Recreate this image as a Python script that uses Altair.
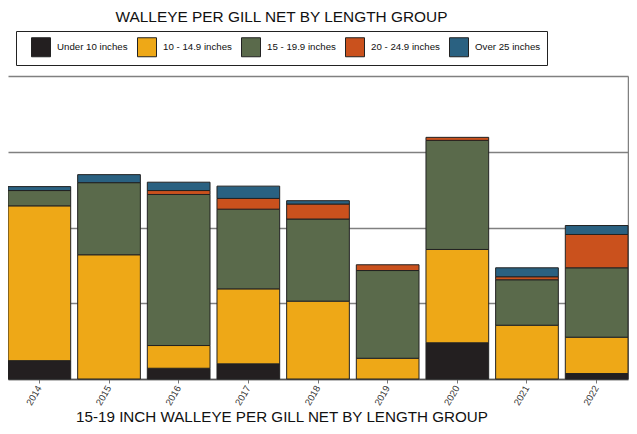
import altair as alt
import pandas as pd

years = ["2014", "2015", "2016", "2017", "2018", "2019", "2020", "2021", "2022"]
groups = ["Under 10 inches", "10 - 14.9 inches", "15 - 19.9 inches", "20 - 24.9 inches", "Over 25 inches"]
colors = ["#231F20", "#EEA817", "#5A6A4B", "#CA511D", "#2A6181"]

under10 = [1.21, 0.00, 0.71, 1.00, 0.00, 0.00, 2.39, 0.00, 0.36]
g10_15 = [10.22, 8.20, 1.50, 4.95, 5.14, 1.37, 6.16, 3.55, 2.40]
g15_20 = [1.01, 4.76, 9.97, 5.26, 5.42, 5.79, 7.20, 3.00, 4.58]
g20_25 = [0.00, 0.00, 0.26, 0.71, 0.99, 0.38, 0.20, 0.20, 2.20]
over25 = [0.26, 0.53, 0.55, 0.81, 0.22, 0.00, 0.00, 0.59, 0.59]
y_ticks = [0, 5, 10, 15, 20]

title_top = "WALLEYE PER GILL NET BY LENGTH GROUP"
title_bottom = "15-19 INCH WALLEYE PER GILL NET BY LENGTH GROUP"

series = [under10, g10_15, g15_20, g20_25, over25]
rows = []
for gi, (g, vals) in enumerate(zip(groups, series)):
    for y, v in zip(years, vals):
        if v > 0:
            rows.append({"year": y, "group": g, "idx": gi, "value": v})
df = pd.DataFrame(rows)

FONT = "Liberation Sans"
yscale = alt.Scale(domain=[0, 20], nice=False, zero=True)
xscale = alt.Scale(paddingInner=0.1, paddingOuter=0)

bars = alt.Chart(df).mark_bar(stroke="#222222", strokeWidth=1).encode(
    x=alt.X("year:N", sort=years, scale=xscale,
            axis=alt.Axis(title=None, labelAngle=-60, labelFontSize=9.5, labelFont=FONT,
                          labelColor="#333333", tickSize=4, tickColor="#777777",
                          domainColor="#555555", domainWidth=1.5, labelPadding=3, grid=False)),
    y=alt.Y("value:Q", stack="zero", scale=yscale,
            axis=alt.Axis(title=None, values=y_ticks, labels=False, ticks=False, domain=False,
                          grid=True, gridColor="#808080", gridWidth=1.5)),
    color=alt.Color("group:N", scale=alt.Scale(domain=groups, range=colors),
                    legend=alt.Legend(orient="none", legendX=8, legendY=-45, direction="horizontal",
                                      title=None, symbolType="square", symbolSize=361,
                                      symbolStrokeColor="#222222", symbolStrokeWidth=1,
                                      symbolOffset=9,
                                      labelFontSize=9.7, labelFont=FONT, labelColor="#111111",
                                      labelOffset=6, columnPadding=0, padding=6,
                                      strokeColor="#222222", fillColor="white")),
    order=alt.Order("idx:Q", sort="ascending"),
)

frame = alt.Chart(df).mark_rule(opacity=0).encode(
    y=alt.Y("value:Q", stack=None, scale=yscale,
            axis=alt.Axis(orient="right", title=None, labels=False, ticks=False, domain=True,
                          domainColor="#808080", domainWidth=1.5, grid=False)),
)

t1 = alt.Chart(alt.Data(values=[{"t": title_top}])).mark_text(
    font=FONT, fontSize=15.4, color="#111111", align="center", baseline="middle"
).encode(x=alt.value(273.5), y=alt.value(-59), text="t:N")

t2 = alt.Chart(alt.Data(values=[{"t": title_bottom}])).mark_text(
    font=FONT, fontSize=15.2, color="#111111", align="center", baseline="middle"
).encode(x=alt.value(274), y=alt.value(341), text="t:N")

chart = alt.layer(bars, frame, t1, t2).resolve_axis(y="independent").properties(
    width=620, height=303, autosize="none",
    padding={"left": 0, "top": 68, "right": 1, "bottom": 47},
).configure_view(stroke=None)

chart.save("out.html", embed_options={"renderer": "svg", "actions": False})
